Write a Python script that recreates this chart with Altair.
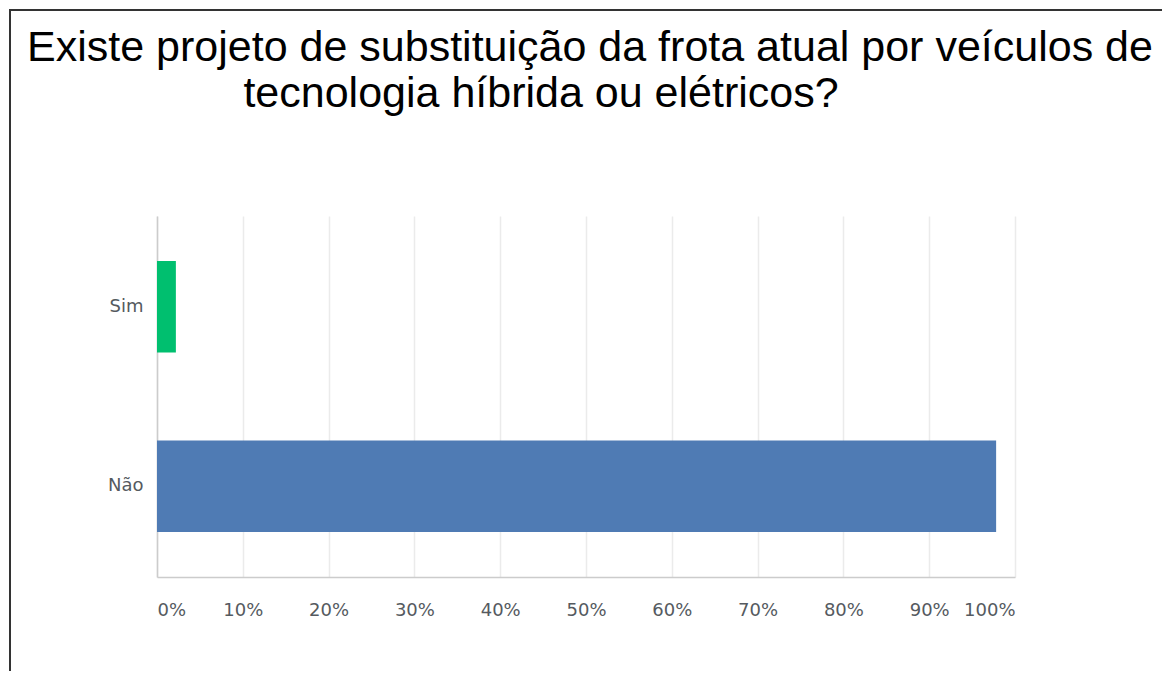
import altair as alt
import pandas as pd

# ---- data ----
categories = ["Sim", "Não"]
values = [0.022, 0.978]
colors = ["#00bf6f", "#4f7bb4"]
title_lines = [
    "Existe projeto de substituição da frota atual por veículos de",
    "tecnologia híbrida ou elétricos?",
]
x_ticks = [0, 0.1, 0.2, 0.3, 0.4, 0.5, 0.6, 0.7, 0.8, 0.9, 1.0]

df = pd.DataFrame({"resposta": categories, "valor": values})

W, H = 858, 361

bars = alt.Chart(df).mark_bar().encode(
    x=alt.X(
        "valor:Q",
        scale=alt.Scale(domain=[0, 1], nice=False),
        axis=alt.Axis(
            values=x_ticks, format=".0%", title=None, grid=True,
            gridColor="#ebebeb", gridWidth=1.5, domainColor="#cccccc", domainWidth=1.5,
            ticks=False, labelFlush=True, labelPadding=24, labelFontSize=18,
            labelFont="DejaVu Sans", labelColor="#555a60",
        ),
    ),
    y=alt.Y(
        "resposta:N", sort=categories,
        scale=alt.Scale(paddingInner=0.49, paddingOuter=0.25),
        axis=alt.Axis(
            title=None, ticks=False, grid=False, domainColor="#cccccc", domainWidth=1.5,
            labelPadding=14, labelFontSize=18, labelFont="DejaVu Sans", labelColor="#555a60",
        ),
    ),
    color=alt.Color("resposta:N", scale=alt.Scale(domain=categories, range=colors), legend=None),
)

blank = alt.Data(values=[{}])

title1 = alt.Chart(blank).mark_text(
    text=title_lines[0], font="Liberation Sans", fontSize=43, color="#000000",
    align="center", baseline="alphabetic",
).encode(x=alt.value(433), y=alt.value(-155))

title2 = alt.Chart(blank).mark_text(
    text=title_lines[1], font="Liberation Sans", fontSize=43, color="#000000",
    align="center", baseline="alphabetic",
).encode(x=alt.value(384), y=alt.value(-109))

frame_left = alt.Chart(blank).mark_rule(color="#333333", strokeWidth=2).encode(
    x=alt.value(-147), y=alt.value(-207), y2=alt.value(470)
)
frame_top = alt.Chart(blank).mark_rule(color="#333333", strokeWidth=2).encode(
    y=alt.value(-206), x=alt.value(-148), x2=alt.value(1020)
)

chart = alt.layer(bars, title1, title2, frame_left, frame_top).properties(
    width=W, height=H,
    autosize=alt.AutoSizeParams(type="none"),
    padding={"left": 149, "top": 208, "right": 147, "bottom": 94},
).configure_view(stroke=None)

chart.save("out.html", embed_options={"renderer": "svg", "actions": False})
